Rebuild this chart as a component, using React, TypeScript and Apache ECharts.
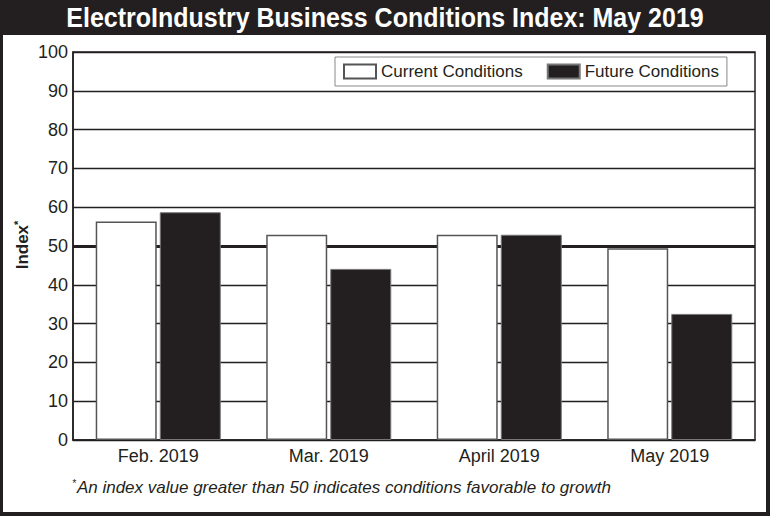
import React, { useEffect, useRef } from "react";
import * as echarts from "echarts";

const categories = ["Feb. 2019", "Mar. 2019", "April 2019", "May 2019"];
const currentValues = [56.3, 52.9, 52.9, 49.4];
const futureValues = [58.7, 44.1, 52.9, 32.5];
const yTicks = { min: 0, max: 100, interval: 10 };
const title = "ElectroIndustry Business Conditions Index: May 2019";
const footnote = "An index value greater than 50 indicates conditions favorable to growth";

const DARK = "#231f20";

export default function App() {
  const ref = useRef<HTMLDivElement>(null);
  useEffect(() => {
    if (!ref.current) return;
    const chart = echarts.init(ref.current, null, { renderer: "svg" });
    chart.setOption({
      animation: false,
      backgroundColor: DARK,
      graphic: [
        { type: "rect", z: -10, shape: { x: 3, y: 35, width: 763, height: 477 }, style: { fill: "#fff" } },
        {
          type: "text",
          x: 385,
          y: 18,
          scaleY: 1.12,
          style: {
            text: title,
            fill: "#fff",
            font: "bold 25px 'Liberation Sans', Arial, sans-serif",
            align: "center",
            verticalAlign: "middle",
          },
        },
        {
          type: "text",
          x: 22,
          y: 245,
          rotation: Math.PI / 2,
          style: {
            text: "{a|Index}{b|*}",
            align: "center",
            verticalAlign: "middle",
            rich: {
              a: { font: "bold 17px 'Liberation Sans', Arial, sans-serif", fill: DARK },
              b: { font: "bold 11px 'Liberation Sans', Arial, sans-serif", fill: DARK, verticalAlign: "top", padding: [0, 0, 8, 0] },
            },
          },
        },
        {
          type: "text",
          x: 72,
          y: 487,
          style: {
            text: "{b|*}{a|" + footnote + "}",
            align: "left",
            verticalAlign: "middle",
            rich: {
              a: { font: "italic 17px 'Liberation Sans', Arial, sans-serif", fill: DARK },
              b: { font: "italic 10px 'Liberation Sans', Arial, sans-serif", fill: DARK, padding: [0, 1, 8, 0] },
            },
          },
        },
      ],
      legend: {
        left: 335,
        top: 57,
        backgroundColor: "#fff",
        borderColor: "#888",
        borderWidth: 1,
        padding: [6, 8, 6, 8],
        itemWidth: 32,
        itemHeight: 14,
        itemGap: 24,
        icon: "rect",
        textStyle: { fontSize: 17, color: DARK, fontFamily: "'Liberation Sans', Arial, sans-serif" },
        data: ["Current Conditions", "Future Conditions"],
      },
      grid: {
        left: 73,
        right: 15,
        top: 52,
        bottom: 76,
        show: true,
        backgroundColor: "#fff",
        borderColor: DARK,
        borderWidth: 1.5,
      },
      xAxis: {
        type: "category",
        data: categories,
        axisLine: { show: true, lineStyle: { color: DARK, width: 1.5 } },
        axisTick: { show: false },
        axisLabel: {
          color: DARK,
          fontSize: 18,
          margin: 7,
          fontFamily: "'Liberation Sans', Arial, sans-serif",
        },
      },
      yAxis: {
        type: "value",
        min: yTicks.min,
        max: yTicks.max,
        interval: yTicks.interval,
        axisLine: { show: true, lineStyle: { color: DARK, width: 1.5 } },
        axisTick: { show: false },
        splitLine: { show: true, lineStyle: { color: DARK, width: 1.3 } },
        axisLabel: {
          color: DARK,
          fontSize: 18,
          margin: 5,
          fontFamily: "'Liberation Sans', Arial, sans-serif",
        },
      },
      series: [
        {
          name: "Current Conditions",
          type: "bar",
          data: currentValues,
          barWidth: 61,
          barGap: "5%",
          z: 2,
          itemStyle: { color: "#fff", borderColor: "#555", borderWidth: 1.5 },
          markLine: {
            z: 1,
            silent: true,
            symbol: "none",
            label: { show: false },
            lineStyle: { color: DARK, width: 3, type: "solid" },
            data: [{ yAxis: 50 }],
          },
        },
        {
          name: "Future Conditions",
          type: "bar",
          data: futureValues,
          barWidth: 61,
          barGap: "5%",
          z: 2,
          itemStyle: { color: DARK, borderColor: "#777", borderWidth: 1 },
        },
      ],
    });
    return () => chart.dispose();
  }, []);
  return (
    <div
      ref={ref}
      style={{ position: "fixed", left: 0, top: 0, width: 770, height: 516 }}
    />
  );
}
